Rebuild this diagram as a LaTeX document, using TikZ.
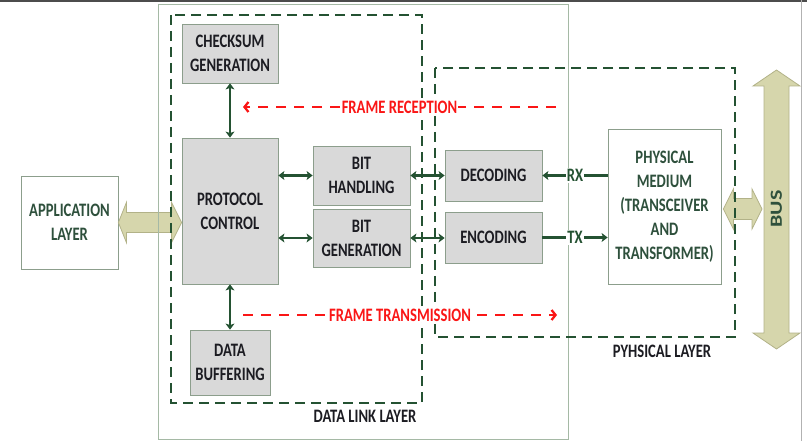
\documentclass[tikz,border=0pt]{standalone}
\usepackage{fontspec}
\setmainfont{Carlito}[FakeStretch=0.77]
\newfontfamily\busfont{Carlito}
\usepackage{xcolor}
\usepackage{graphicx}
\usetikzlibrary{positioning,arrows.meta,calc}
\definecolor{linkgreen}{RGB}{36,82,50}
\definecolor{labelgreen}{RGB}{46,80,60}
\definecolor{boxgray}{RGB}{217,217,217}
\definecolor{boxline}{RGB}{140,158,140}
\definecolor{framegray}{RGB}{165,185,165}
\definecolor{khaki}{RGB}{214,214,172}
\definecolor{khakiline}{RGB}{178,178,136}
\definecolor{textdark}{RGB}{28,28,34}
\definecolor{framered}{RGB}{250,22,22}
\newcommand{\blocksize}{\fontsize{19}{24}\selectfont}
\tikzset{
    block/.style={rectangle, draw=boxline, fill=boxgray, line width=0.8pt, align=center, text=textdark, font=\bfseries\blocksize, inner sep=0pt},
    plain block/.style={block, fill=white, text=labelgreen},
    outer frame/.style={draw=framegray, line width=1pt},
    layer frame/.style={draw=linkgreen, line width=1.9pt, dash pattern=on 10pt off 6pt},
    layer label/.style={font=\bfseries\blocksize, text=textdark},
    link/.style={{Stealth[length=6pt,width=9pt,inset=1.5pt]}-{Stealth[length=6pt,width=9pt,inset=1.5pt]}, draw=linkgreen, line width=2.5pt},
    one link/.style={-{Stealth[length=6pt,width=9pt,inset=1.5pt]}, draw=linkgreen, line width=2.5pt},
    port label/.style={fill=white, text=linkgreen, font=\bfseries\blocksize, inner sep=1pt},
    frame flow/.style={-{Straight Barb[length=4pt,width=10pt]}, draw=framered, line width=2.3pt, dash pattern=on 10pt off 8pt},
    flow label/.style={fill=white, text=framered, font=\bfseries\blocksize, inner sep=1pt},
    big arrow/.style={draw=khakiline, fill=khaki, line width=0.8pt},
    bus label/.style={rotate=90, text=labelgreen, inner sep=0pt}
}

\begin{document}
\begin{tikzpicture}[x=1pt, y=-1pt]
    \useasboundingbox (0,0) rectangle (807,441);

    % screen edges
    \draw[black!70, line width=2pt] (0,1) -- (807,1);
    \draw[black!30, line width=1pt] (801,0) -- (801,441);

    % Blocks
    \node[block, minimum width=96pt, minimum height=59pt] (chk) at (230,53.5) {CHECKSUM\\GENERATION};
    \node[block, minimum width=96pt, minimum height=146pt] (prot) at (230,211) {PROTOCOL\\CONTROL};
    \node[block, minimum width=97pt, minimum height=59pt] (bith) at (361.5,175.5) {BIT\\HANDLING};
    \node[block, minimum width=97pt, minimum height=58pt] (bitg) at (361.5,238) {BIT\\GENERATION};
    \node[block, minimum width=80pt, minimum height=65pt] (buf) at (230,362.5) {DATA\\BUFFERING};
    \node[block, minimum width=97pt, minimum height=51pt] (dec) at (493.5,175.5) {DECODING};
    \node[block, minimum width=97pt, minimum height=51pt] (enc) at (493.5,237.5) {ENCODING};
    \node[plain block, minimum width=113pt, minimum height=155pt] (phys) at (664.5,206.5) {PHYSICAL\\MEDIUM\\(TRANSCEIVER\\AND\\TRANSFORMER)};
    \node[plain block, minimum width=97pt, minimum height=93pt] (app) at (69.5,222.5) {APPLICATION\\LAYER};

    % Block arrows
    \coordinate (appR) at (app.east);
    \coordinate (protL) at (prot.west |- app.east);
    \draw[big arrow] (appR) -- ++(8,-20) -- ++(0,10) -- ($(protL)+(-10,-10)$) -- ++(0,-10) -- (protL)
        -- ++(-10,20) -- ++(0,-10) -- ($(appR)+(8,10)$) -- ++(0,10) -- cycle;

    \coordinate (bustop) at (776.5,70);
    \coordinate (busbot) at (776.5,349);
    \draw[big arrow] (bustop) -- ++(23.5,16) -- ++(-11,0) -- ($(busbot)+(12.5,-16)$) -- ++(11,0) -- (busbot)
        -- ++(-23.5,-16) -- ++(11,0) -- ($(bustop)+(-12.5,16)$) -- ++(-11,0) -- cycle;
    \node[bus label] (bus) at (776.5,209) {\scalebox{1}[0.77]{\busfont\bfseries\fontsize{22}{24}\selectfont BUS}};

    \coordinate (medR) at ([xshift=2pt]phys.east |- bus);
    \coordinate (busL) at ([xshift=-14.5pt]bus.center);
    \draw[big arrow] (medR) -- ++(10,-20) -- ++(0,9.5) -- ($(busL)+(-10,-10.5)$) -- ++(0,-9.5) -- (busL)
        -- ++(-10,20) -- ++(0,-9.5) -- ($(medR)+(10,10.5)$) -- ++(0,9.5) -- cycle;

    % Layers
    \draw[outer frame] (158,5) rectangle (568,439);
    \draw[layer frame] (171,15) rectangle (422,403);
    \draw[layer frame] (435,68) rectangle (735,337);
    \node[layer label] (dll) at (365,416) {DATA LINK LAYER};
    \node[layer label] (phl) at (662,351) {PYHSICAL LAYER};

    % Links
    \draw[link] (chk) -- (prot);
    \draw[link] (prot) -- (buf);
    \draw[link] (bith.west -| prot.east) -- (bith.west);
    \draw[link] (bitg.west -| prot.east) -- (bitg.west);
    \draw[link] (bith) -- (dec);
    \draw[link] (bitg.east) -- (bitg.east -| enc.west);
    \draw[one link] (dec.east -| phys.west) -- (dec.east) node[port label, midway] {RX};
    \draw[one link] (enc.east) -- (enc.east -| phys.west) node[port label, midway] {TX};

    % Frame flows
    \coordinate (rxfrom) at (556,107);
    \coordinate (rxto) at (243,107);
    \draw[frame flow] (rxfrom) -- (rxto) node[flow label, midway] {FRAME RECEPTION};
    \coordinate (txfrom) at (243,315);
    \coordinate (txto) at (557,315);
    \draw[frame flow] (txfrom) -- (txto) node[flow label, midway] {FRAME TRANSMISSION};
\end{tikzpicture}
\end{document}
